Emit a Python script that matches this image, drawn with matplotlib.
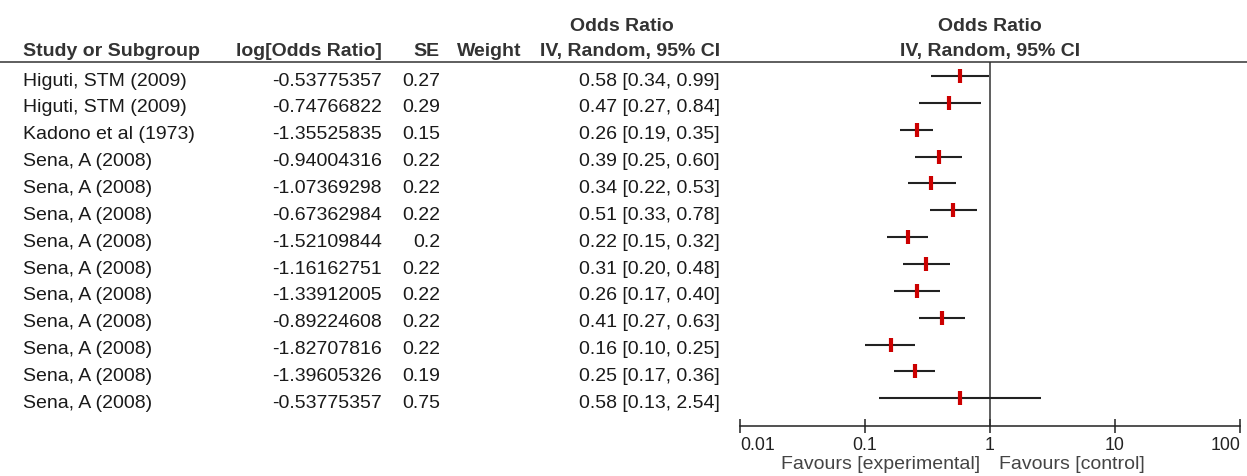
import matplotlib
matplotlib.use("Agg")
import matplotlib.pyplot as plt
from matplotlib.lines import Line2D
from matplotlib.ticker import NullLocator
from matplotlib.transforms import blended_transform_factory

# study rows, top to bottom
studies = ["Higuti, STM (2009)", "Higuti, STM (2009)", "Kadono et al (1973)",
           "Sena, A (2008)", "Sena, A (2008)", "Sena, A (2008)", "Sena, A (2008)",
           "Sena, A (2008)", "Sena, A (2008)", "Sena, A (2008)", "Sena, A (2008)",
           "Sena, A (2008)", "Sena, A (2008)"]
log_or = [-0.53775357, -0.74766822, -1.35525835, -0.94004316, -1.07369298,
          -0.67362984, -1.52109844, -1.16162751, -1.33912005, -0.89224608,
          -1.82707816, -1.39605326, -0.53775357]
se = [0.27, 0.29, 0.15, 0.22, 0.22, 0.22, 0.2, 0.22, 0.22, 0.22, 0.22, 0.19, 0.75]
odds_ratio = [0.58, 0.47, 0.26, 0.39, 0.34, 0.51, 0.22, 0.31, 0.26, 0.41, 0.16, 0.25, 0.58]
ci_low = [0.34, 0.27, 0.19, 0.25, 0.22, 0.33, 0.15, 0.20, 0.17, 0.27, 0.10, 0.17, 0.13]
ci_high = [0.99, 0.84, 0.35, 0.60, 0.53, 0.78, 0.32, 0.48, 0.40, 0.63, 0.25, 0.36, 2.54]

x_ticks = [0.01, 0.1, 1, 10, 100]
x_tick_labels = ["0.01", "0.1", "1", "10", "100"]

W, H, DPI = 1247, 477, 100
plt.rcParams['font.family'] = ['Liberation Sans', 'DejaVu Sans']

ROW0, ROW_H = 77, 26.85      # first row centre and row spacing, pixels
TOP, AXIS_Y = 63, 427        # header rule and x axis, pixels
X_LEFT, X_RIGHT = 740, 1240  # forest plot extent, pixels
FS = 14
TXT = '#1a1a1a'
HDR = '#333333'


def fx(x):
    return x / W


def fy(y):
    return 1 - y / H


fig = plt.figure(figsize=(W / DPI, H / DPI), dpi=DPI)
fig.patch.set_facecolor('white')

ax = fig.add_axes([fx(X_LEFT), fy(AXIS_Y), (X_RIGHT - X_LEFT) / W, (AXIS_Y - TOP) / H])
ax.set_xscale('log')
ax.set_xlim(0.01, 100)
ax.set_ylim((AXIS_Y - ROW0) / ROW_H, (TOP - ROW0) / ROW_H)
ax.patch.set_visible(False)
for side in ['top', 'left', 'right']:
    ax.spines[side].set_visible(False)
ax.spines['bottom'].set_color('#222222')
ax.spines['bottom'].set_linewidth(1.1)

ax.set_xticks(x_ticks)
ax.set_xticklabels(x_tick_labels)
ax.xaxis.set_minor_locator(NullLocator())
ax.tick_params(axis='x', direction='inout', length=10, width=1.1, color='#222222',
               labelsize=12.8, labelcolor='#222222', pad=2)
ax.tick_params(axis='y', left=False, labelleft=False)
tl = ax.get_xticklabels()
tl[0].set_horizontalalignment('left')
tl[-1].set_horizontalalignment('right')

rows = list(range(len(studies)))
ax.axvline(1, color='#333333', lw=1.1)
ax.hlines(rows, ci_low, ci_high, color='#222222', lw=1.5)
ax.plot(odds_ratio, rows, ls='none', marker='|', ms=9.5, mew=3, color='#cc0000')

ax.annotate('Favours [experimental]', xy=(1, 0), xycoords=('data', 'axes fraction'),
            xytext=(-10, -38), textcoords='offset pixels', ha='right', va='center',
            fontsize=14, color='#444444')
ax.annotate('Favours [control]', xy=(1, 0), xycoords=('data', 'axes fraction'),
            xytext=(9, -38), textcoords='offset pixels', ha='left', va='center',
            fontsize=14, color='#444444')

# header
fig.add_artist(Line2D([0, 1], [fy(TOP), fy(TOP)], transform=fig.transFigure,
                      color='#333333', lw=1.1))
hdr = dict(fontsize=FS, weight='bold', color=HDR, va='baseline')
fig.text(fx(23), fy(56), 'Study or Subgroup', ha='left', **hdr)
fig.text(fx(382), fy(56), 'log[Odds Ratio]', ha='right', **hdr)
fig.text(fx(440), fy(56), 'SE', ha='right', **hdr)
fig.text(fx(457), fy(56), 'Weight', ha='left', **hdr)
fig.text(fx(622), fy(31), 'Odds Ratio', ha='center', **hdr)
fig.text(fx(720), fy(56), 'IV, Random, 95% CI', ha='right', **hdr)
fig.text(fx(990), fy(31), 'Odds Ratio', ha='center', **hdr)
fig.text(fx(990), fy(56), 'IV, Random, 95% CI', ha='center', **hdr)

# table rows
tr = blended_transform_factory(fig.transFigure, ax.transData)
cell = dict(fontsize=FS, color=TXT, va='baseline', transform=tr)
for i in rows:
    y = i + 0.32
    ax.text(fx(23), y, studies[i], ha='left', **cell)
    ax.text(fx(382), y, f"{log_or[i]:.8f}", ha='right', **cell)
    ax.text(fx(440), y, f"{se[i]:g}", ha='right', **cell)
    ax.text(fx(720), y, f"{odds_ratio[i]:.2f} [{ci_low[i]:.2f}, {ci_high[i]:.2f}]",
            ha='right', **cell)

fig.savefig('out.png', dpi=DPI, facecolor='white')
